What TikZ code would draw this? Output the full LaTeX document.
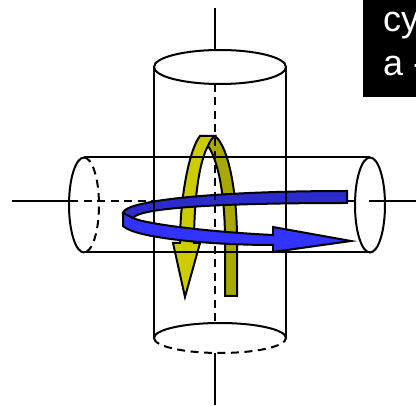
\documentclass[tikz,border=0pt]{standalone}
\usepackage{fontspec}
\setmainfont{Liberation Sans}
\tikzset{
  edge/.style={line width=2pt,black},
  hid/.style={line width=2pt,black,dash pattern=on 8pt off 5.5pt},
  rib/.style={line width=2pt,draw=black,line join=miter},
}
\definecolor{yfront}{HTML}{CCCC00}
\definecolor{yback}{HTML}{A8A800}
\definecolor{bfront}{HTML}{3333FF}
\definecolor{bback}{HTML}{2C2CCC}
\begin{document}
\begin{tikzpicture}[x=1pt,y=-1pt]
\useasboundingbox (0,0) rectangle (416,406);
% banner
\node[fill=black,minimum width=53pt,minimum height=97pt,inner sep=0pt,anchor=north west] (banner) at (363,0) {};
\node[anchor=base west,inner sep=0pt,text=white,font=\fontsize{36}{40}\selectfont] (l1) at (383,32) {cy};
\node[anchor=base west,inner sep=0pt,text=white,font=\fontsize{36}{40}\selectfont] (l2) at (383,76) {a -};
% horizontal axis, hidden part
\draw[edge] (12,201) -- (70,201);
\draw[hid] (70,201) -- (170,201);
\draw[edge] (347,201) -- (355,201);
\draw[edge] (369,201) -- (416,201);
% yellow arrow
\path[rib,fill=yfront] (200,136) -- (215,136) -- (208,146) .. controls (200,160) and (194,195) .. (194,243) -- (200,243) -- (185,297) -- (173,243) -- (180,243) .. controls (180,195) and (190,148) .. (200,136) -- cycle;
\path[rib,fill=yback] (215,136) .. controls (228,146) and (237,190) .. (237,240) -- (237,296) -- (225,296) -- (225,240) .. controls (225,195) and (218,160) .. (208,146) .. controls (210,141) and (212,138) .. (215,136) -- cycle;
% back blue band
\path[rib,fill=bback] (347,191) .. controls (220,191) and (125,200) .. (123,213) -- (133,218) .. controls (140,207) and (230,203) .. (347,203) -- cycle;
% cylinders
\draw[edge] (84,157.5) -- (370,157.5) (84,252.5) -- (370,252.5);
\draw[edge] (154,67) -- (154,338) (286,67) -- (286,338);
\draw[edge] (215,8) -- (215,50);
\draw[edge] (215,353) -- (215,405);
\draw[hid] (215,84) -- (215,323);
\draw[edge] (220,67) ellipse [x radius=66,y radius=17];
\draw[edge] (154,338) arc [start angle=180,end angle=360,x radius=66,y radius=15];
\draw[hid] (154,338) arc [start angle=180,end angle=0,x radius=66,y radius=15];
\draw[edge] (370,205) ellipse [x radius=15,y radius=47.5];
\draw[edge] (84,157.5) arc [start angle=270,end angle=90,x radius=15,y radius=47.5];
\draw[hid] (84,157.5) arc [start angle=-90,end angle=90,x radius=15,y radius=47.5];
% front blue
\path[rib,fill=bfront] (123,213) -- (123,226) .. controls (135,238) and (210,245) .. (273,245) -- (273,252) -- (351,241) -- (273,227) -- (273,235) .. controls (210,232) and (145,224) .. (133,218) -- cycle;
\end{tikzpicture}
\end{document}
